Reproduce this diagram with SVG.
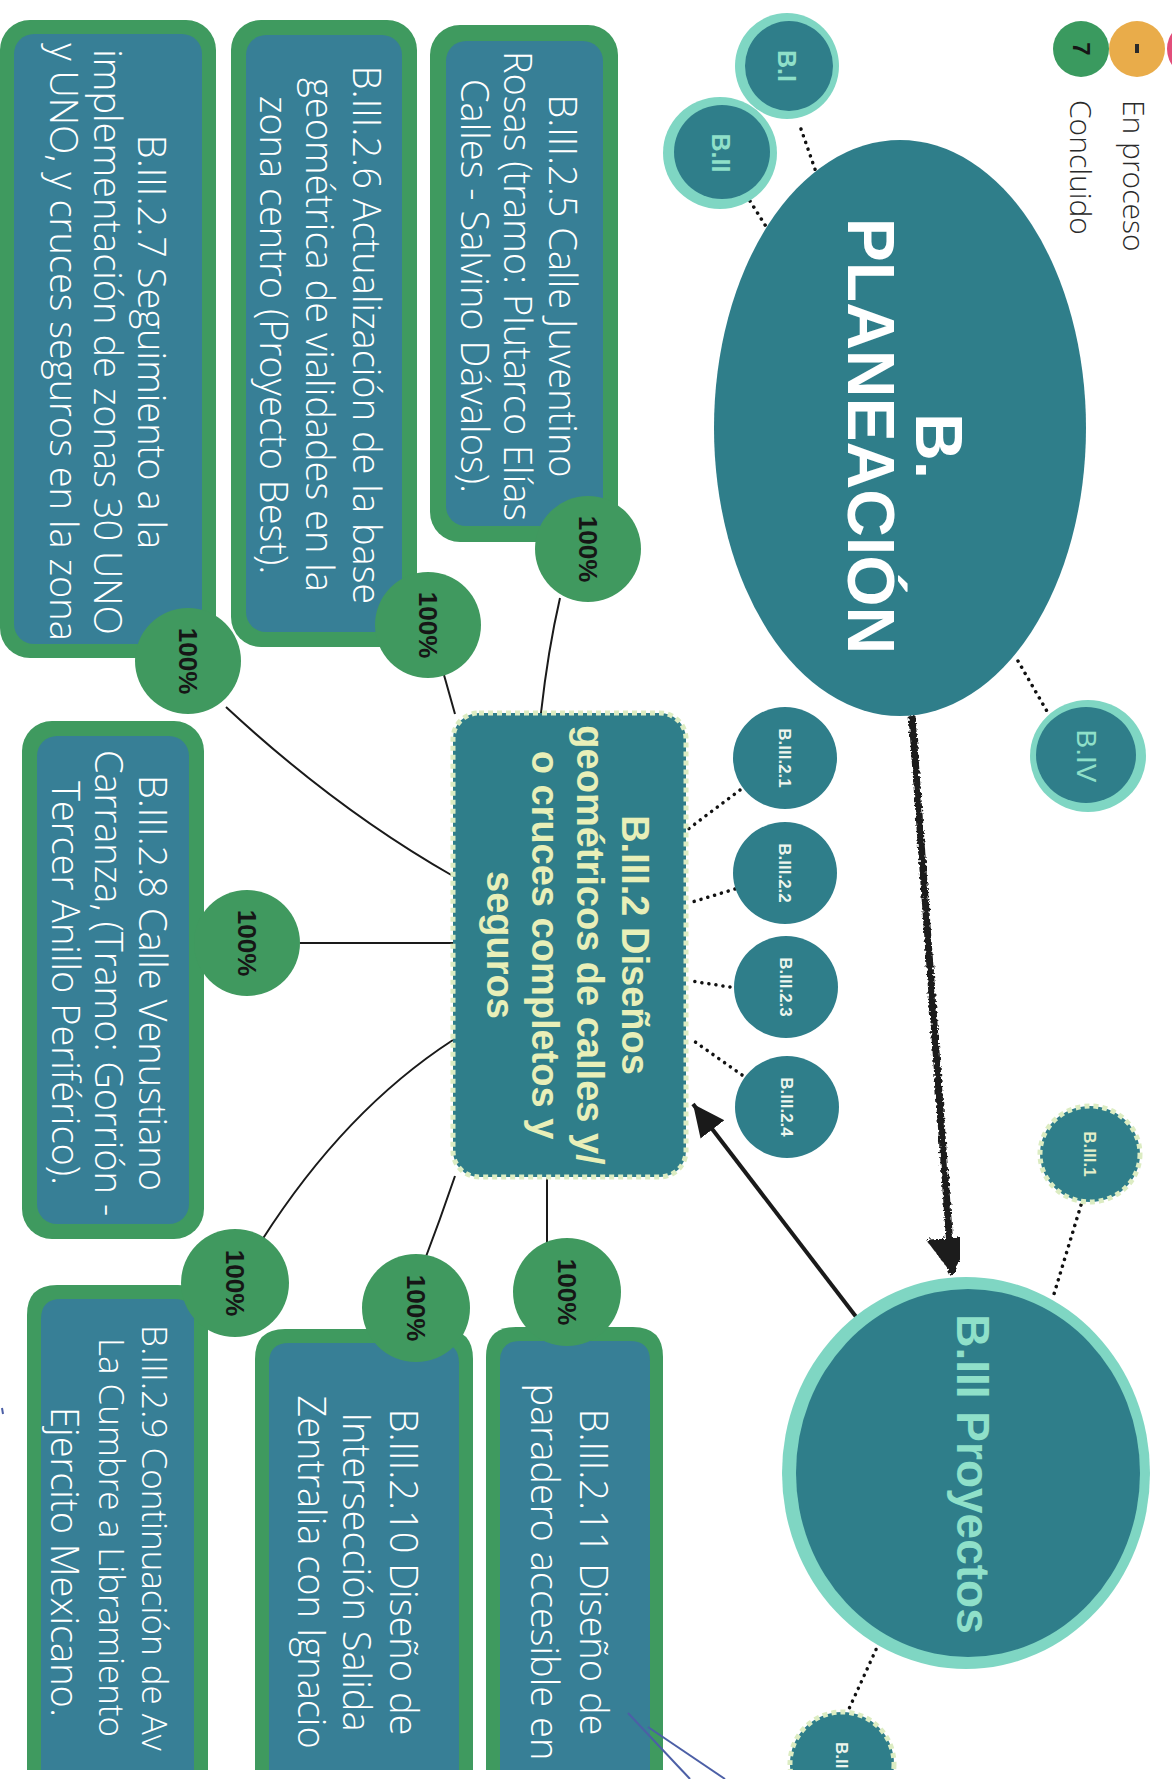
<svg xmlns="http://www.w3.org/2000/svg" width="1172" height="1779" viewBox="0 0 1172 1779">
<defs>
<style>
.bo{fill:#3f9a5f}
.bi{fill:#377f96}
.pct{fill:#40995f}
.pt{font-family:"Liberation Sans",Arial,sans-serif;font-weight:bold;font-size:26px;fill:#161616;text-anchor:middle}
.bt{font-family:"Open Sans","Liberation Sans",sans-serif;font-weight:300;font-size:38px;fill:#ffffff;text-anchor:middle}
.bs{text-anchor:start;font-size:35px}
.ct{font-family:"Liberation Sans",Arial,sans-serif;font-weight:bold;font-size:38px;fill:#e8efb8;text-anchor:middle}
.dk{fill:#2f7e8a}
.ring{fill:#7fd6c3}
.dash{fill:#2f7e8a;stroke:#dcecc2;stroke-width:5;stroke-dasharray:5 4}
.lab{font-family:"Liberation Sans",Arial,sans-serif;font-weight:bold;fill:#8fe0c9;text-anchor:middle}
.sl{font-family:"Liberation Sans",Arial,sans-serif;font-weight:bold;font-size:17px;fill:#eef6ee;text-anchor:middle}
.leg{font-family:"Open Sans","Liberation Sans",sans-serif;font-weight:300;font-size:30px;fill:#2a2a2a}
.dot{fill:none;stroke:#111;stroke-width:3.5;stroke-linecap:round;stroke-dasharray:0.1 7}
.thin{fill:none;stroke:#1a1a1a;stroke-width:2}
.pen{fill:none;stroke:#4c5fa6;stroke-width:2}
</style>
<marker id="ah" markerUnits="userSpaceOnUse" markerWidth="34" markerHeight="34" refX="32" refY="15" orient="auto" viewBox="0 0 34 30"><path d="M0,0 L32,15 L0,30 z" fill="#1a1a1a"/></marker>
<marker id="ahb" markerUnits="userSpaceOnUse" markerWidth="40" markerHeight="50" refX="36" refY="23.5" orient="auto" viewBox="0 0 40 47"><path d="M0,0 L36,23.5 L0,47 z" fill="#1e1e1e"/></marker>
<filter id="rough" x="-20%" y="-5%" width="140%" height="110%"><feTurbulence type="fractalNoise" baseFrequency="0.35" numOctaves="2" result="n"/><feDisplacementMap in="SourceGraphic" in2="n" scale="6"/></filter>
<clipPath id="page"><rect x="0" y="0" width="1172" height="1770"/></clipPath>
</defs>
<rect x="0" y="0" width="1172" height="1779" fill="#ffffff"/>
<g id="connectors">
<path class="dot" d="M801 129 L823 192"/>
<path class="dot" d="M750 201 L772 236"/>
<path class="dot" d="M1018 661 L1048 713"/>
<path class="dot" d="M740 790 L687 830"/>
<path class="dot" d="M735 889 L689 903"/>
<path class="dot" d="M730 987 L691 981"/>
<path class="dot" d="M742 1075 L691 1039"/>
<path class="dot" d="M1081 1205 L1054 1294"/>
<path class="dot" d="M879 1643 L848 1711"/>
<path class="thin" d="M560 598 Q548 650 541 713"/>
<path class="thin" d="M444 675 L455 714"/>
<path class="thin" d="M226 707 Q337 810 453 876"/>
<path class="thin" d="M300 943 L453 943"/>
<path class="thin" d="M262 1240 Q345 1110 453 1040"/>
<path class="thin" d="M455 1176 Q440 1220 424 1262"/>
<path class="thin" d="M547 1178 L547 1245"/>
<path d="M912 716 L952 1274" fill="none" stroke="#1e1e1e" stroke-width="7" marker-end="url(#ahb)" filter="url(#rough)"/>
<path d="M857 1318 L693 1104" fill="none" stroke="#1a1a1a" stroke-width="4" marker-end="url(#ah)"/>
</g>
<g id="legend">
<circle cx="1195" cy="49" r="28" fill="#e24d7a"/>
<circle cx="1137" cy="49" r="28" fill="#e9ac4a"/>
<circle cx="1081" cy="49" r="28" fill="#3a9a5f"/>
<text class="pt" transform="translate(1073 49) rotate(90)" style="font-size:24px">7</text>
<rect x="1135" y="44" width="4" height="9" fill="#2a2a2a"/>
<text class="leg" transform="translate(1123 100) rotate(90)">En proceso</text>
<text class="leg" transform="translate(1070 100) rotate(90)">Concluido</text>
</g>
<g id="planeacion">
<ellipse cx="900" cy="428" rx="186" ry="288" class="dk"/>
<text transform="translate(916 446) rotate(90)" style="font-family:'Liberation Sans',Arial,sans-serif;font-weight:bold;font-size:66px;fill:#fff;text-anchor:middle">B.</text>
<text transform="translate(848 436) rotate(90)" style="font-family:'Liberation Sans',Arial,sans-serif;font-weight:bold;font-size:66px;fill:#fff;text-anchor:middle">PLANEACIÓN</text>
</g>
<g id="bI">
<ellipse cx="787" cy="66" rx="52" ry="53" class="ring"/>
<ellipse cx="789" cy="66" rx="44" ry="45" class="dk"/>
<text class="lab" transform="translate(778 66) rotate(90)" style="font-size:25px">B.I</text>
</g>
<g id="bII">
<ellipse cx="720" cy="153" rx="57" ry="56" class="ring"/>
<ellipse cx="722" cy="152" rx="48" ry="47" class="dk"/>
<text class="lab" transform="translate(712 153) rotate(90)" style="font-size:25px">B.II</text>
</g>
<g id="bIV">
<ellipse cx="1088" cy="756" rx="58" ry="56" class="ring"/>
<ellipse cx="1086" cy="755" rx="50" ry="48" class="dk"/>
<text class="lab" transform="translate(1077 756) rotate(90)" style="font-size:28px;font-weight:normal">B.IV</text>
</g>
<g id="bIII1">
<ellipse cx="1090" cy="1154" rx="50" ry="48" class="dash"/>
<text class="sl" transform="translate(1084 1154) rotate(90)" style="fill:#e4eec8">B.III.1</text>
</g>
<g id="bIII">
<ellipse cx="966" cy="1473" rx="184" ry="196" class="ring"/>
<ellipse cx="968" cy="1473" rx="172" ry="184" class="dk"/>
<text class="lab" transform="translate(957 1474) rotate(90)" style="font-size:46px">B.III Proyectos</text>
</g>
<g id="bIIIx" clip-path="url(#page)">
<ellipse cx="842" cy="1764" rx="52" ry="52" class="dash"/>
<text class="sl" transform="translate(836 1742) rotate(90)" style="text-anchor:start">B.II</text>
</g>
<g id="b2">
<rect x="453" y="713" width="233" height="464" rx="26" class="dash"/>
<text class="ct" transform="translate(622 945) rotate(90)">B.III.2 Diseños</text>
<text class="ct" transform="translate(577 945) rotate(90)">geométricos de calles y/</text>
<text class="ct" transform="translate(532 945) rotate(90)">o cruces completos y</text>
<text class="ct" transform="translate(487 945) rotate(90)">seguros</text>
</g>
<g id="b21">
<ellipse cx="785" cy="758" rx="52" ry="51" class="dk"/>
<text class="sl" transform="translate(779 758) rotate(90)">B.III.2.1</text>
</g>
<g id="b22">
<ellipse cx="785" cy="873" rx="52" ry="51" class="dk"/>
<text class="sl" transform="translate(779 873) rotate(90)">B.III.2.2</text>
</g>
<g id="b23">
<ellipse cx="786" cy="987" rx="52" ry="51" class="dk"/>
<text class="sl" transform="translate(780 987) rotate(90)">B.III.2.3</text>
</g>
<g id="b24">
<ellipse cx="787" cy="1107" rx="52" ry="51" class="dk"/>
<text class="sl" transform="translate(781 1107) rotate(90)">B.III.2.4</text>
</g>
<g id="b25">
<rect x="430" y="25" width="188" height="517" rx="30" class="bo"/>
<rect x="446" y="41" width="157" height="485" rx="20" class="bi"/>
<text class="bt" transform="translate(549 286) rotate(90)">B.III.2.5 Calle Juventino</text>
<text class="bt" transform="translate(504 286) rotate(90)">Rosas (tramo: Plutarco Elías</text>
<text class="bt" transform="translate(461 286) rotate(90)">Calles - Salvino Dávalos).</text>
<circle cx="588" cy="549" r="53" class="pct"/>
<text class="pt" transform="translate(579 549) rotate(90)">100%</text>
</g>
<g id="b26">
<rect x="231" y="20" width="186" height="627" rx="30" class="bo"/>
<rect x="246" y="35" width="156" height="597" rx="20" class="bi"/>
<text class="bt" transform="translate(353 335) rotate(90)">B.III.2.6 Actualización de la base</text>
<text class="bt" transform="translate(306 335) rotate(90)">geométrica de vialidades en la</text>
<text class="bt" transform="translate(260 335) rotate(90)">zona centro (Proyecto Best).</text>
<circle cx="428" cy="625" r="53" class="pct"/>
<text class="pt" transform="translate(419 625) rotate(90)">100%</text>
</g>
<g id="b27">
<rect x="0" y="20" width="216" height="638" rx="30" class="bo"/>
<rect x="14" y="34" width="188" height="610" rx="20" class="bi"/>
<text class="bt" transform="translate(138 342) rotate(90)">B.III.2.7 Seguimiento a la</text>
<text class="bt" transform="translate(94 342) rotate(90)">implementación de zonas 30 UNO</text>
<text class="bt" transform="translate(50 342) rotate(90)">y UNO, y cruces seguros en la zona</text>
<circle cx="188" cy="661" r="53" class="pct"/>
<text class="pt" transform="translate(179 661) rotate(90)">100%</text>
</g>
<g id="b28">
<rect x="22" y="721" width="182" height="518" rx="30" class="bo"/>
<rect x="37" y="736" width="152" height="488" rx="20" class="bi"/>
<text class="bt" transform="translate(139 983) rotate(90)">B.III.2.8 Calle Venustiano</text>
<text class="bt" transform="translate(95 983) rotate(90)">Carranza, (Tramo: Gorrión -</text>
<text class="bt" transform="translate(52 983) rotate(90)">Tercer Anillo Periférico).</text>
<circle cx="247" cy="943" r="53" class="pct"/>
<text class="pt" transform="translate(238 943) rotate(90)">100%</text>
</g>
<g id="b29">
<path class="bo" d="M27 1770 V1315 Q27 1285 57 1285 H178 Q208 1285 208 1315 V1770 Z"/>
<path class="bi" d="M41 1770 V1319 Q41 1299 61 1299 H174 Q194 1299 194 1319 V1770 Z"/>
<text class="bt bs" transform="translate(142 1325) rotate(90)">B.III.2.9 Continuación de Av</text>
<text class="bt bs" transform="translate(99 1338) rotate(90)">La Cumbre a Libramiento</text>
<text class="bt" transform="translate(51 1562) rotate(90)">Ejercito Mexicano.</text>
<circle cx="235" cy="1283" r="54" class="pct"/>
<text class="pt" transform="translate(226 1283) rotate(90)">100%</text>
</g>
<g id="b210">
<path class="bo" d="M255 1770 V1359 Q255 1329 285 1329 H443 Q473 1329 473 1359 V1770 Z"/>
<path class="bi" d="M269 1770 V1363 Q269 1343 289 1343 H439 Q459 1343 459 1363 V1770 Z"/>
<text class="bt" transform="translate(390 1572) rotate(90)">B.III.2.10 Diseño de</text>
<text class="bt" transform="translate(343 1572) rotate(90)">Intersección Salida</text>
<text class="bt" transform="translate(298 1572) rotate(90)">Zentralia con Ignacio</text>
<circle cx="416" cy="1308" r="54" class="pct"/>
<text class="pt" transform="translate(407 1308) rotate(90)">100%</text>
</g>
<g id="b211">
<path class="bo" d="M486 1770 V1357 Q486 1327 516 1327 H633 Q663 1327 663 1357 V1770 Z"/>
<path class="bi" d="M500 1770 V1361 Q500 1341 520 1341 H630 Q650 1341 650 1361 V1770 Z"/>
<text class="bt" transform="translate(580 1572) rotate(90)">B.III.2.11 Diseño de</text>
<text class="bt" transform="translate(531 1572) rotate(90)">paradero accesible en</text>
<circle cx="567" cy="1292" r="54" class="pct"/>
<text class="pt" transform="translate(558 1292) rotate(90)">100%</text>
</g>
<g id="pen">
<path class="pen" d="M628 1713 L690 1779"/>
<path class="pen" d="M648 1727 L725 1779"/>
<path class="pen" d="M2 1408 L3 1414"/>
</g>
</svg>
